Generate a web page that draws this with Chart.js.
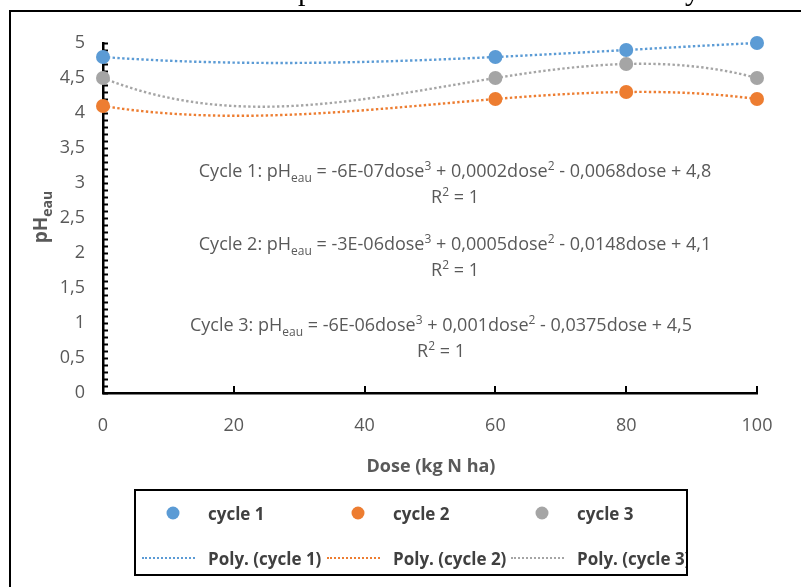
<!DOCTYPE html>
<html>
<head>
<meta charset="utf-8">
<script src="https://cdn.jsdelivr.net/npm/chart.js@4.4.0/dist/chart.umd.min.js"></script>
<style>
  html, body { margin: 0; padding: 0; background: #fff; }
  #wrap { position: relative; width: 801px; height: 587px; overflow: hidden; font-family: "Open Sans", sans-serif; }
  #chart { position: absolute; left: 0; top: 0; }
  .frame { position: absolute; left: 9px; top: 10px; width: 900px; height: 700px; border-top: 2.5px solid #000; border-left: 2.5px solid #000; }
  .cap { position: absolute; top: -25px; font-family: "Liberation Serif", serif; font-size: 30px; line-height: 30px; color: #000; white-space: nowrap; }
  .cap sub { font-size: 19px; line-height: 0; vertical-align: 0; position: relative; top: -3px; }
  .eq { position: absolute; color: #595959; font-size: 18px; text-align: center; white-space: nowrap; transform: translateX(-50%); line-height: 26px; }
  .eq sub, .eq sup { font-size: 12px; line-height: 0; }
  .ytitle { position: absolute; left: 40px; top: 217px; transform: translate(-50%, -50%) rotate(-90deg); color: #595959; font-weight: bold; font-size: 19px; white-space: nowrap; line-height: 24px; }
  .ytitle sub { font-size: 14px; line-height: 0; }
  .xtitle { position: absolute; left: 431px; top: 465px; transform: translate(-50%, -50%); color: #595959; font-weight: bold; font-size: 18px; white-space: nowrap; }
  .legend { position: absolute; left: 134px; top: 489px; width: 550px; height: 83px; border: 2px solid #000; overflow: hidden; }
  .item { position: absolute; color: #404040; font-weight: bold; font-size: 17px; white-space: nowrap; transform: translateY(-50%); }
  .dot { position: absolute; width: 13px; height: 13px; border-radius: 50%; transform: translate(-50%, -50%); }
  .dash { position: absolute; width: 53px; height: 0; border-top: 2.5px dotted; transform: translateY(-50%); }
</style>
</head>
<body>
<div id="wrap">
  <canvas id="chart" width="801" height="587"></canvas>
  <div class="frame"></div>
  <div class="cap" style="left:298px">pH<sub>eau</sub></div>
  <div class="cap" style="left:685px">y</div>
  <div id="eqs"></div>
  <div class="ytitle">pH<sub>eau</sub></div>
  <div class="xtitle">Dose (kg N ha)</div>
  <div class="legend" id="legend"></div>
</div>
<script>
// measured points
const doses = [0, 60, 80, 100];
const cycle1 = [4.8, 4.8, 4.9, 5.0];
const cycle2 = [4.1, 4.2, 4.3, 4.2];
const cycle3 = [4.5, 4.5, 4.7, 4.5];
const seriesNames = ['cycle 1', 'cycle 2', 'cycle 3'];
const colors = ['#5B9BD5', '#ED7D31', '#A5A5A5'];

const xTicks = [0, 20, 40, 60, 80, 100];
const yTicks = [0, 0.5, 1, 1.5, 2, 2.5, 3, 3.5, 4, 4.5, 5];

// trendline labels as printed on the chart
const equations = [
  'Cycle 1: pH<sub>eau</sub> = -6E-07dose<sup>3</sup> + 0,0002dose<sup>2</sup> - 0,0068dose + 4,8',
  'Cycle 2: pH<sub>eau</sub> = -3E-06dose<sup>3</sup> + 0,0005dose<sup>2</sup> - 0,0148dose + 4,1',
  'Cycle 3: pH<sub>eau</sub> = -6E-06dose<sup>3</sup> + 0,001dose<sup>2</sup> - 0,0375dose + 4,5'
];
const eqPos = [[455, 170], [455, 243], [441, 324]];

// least squares polynomial fit (what the "Poly." trendline is)
function polyfit(xs, ys, deg) {
  const n = deg + 1;
  const A = [], b = [];
  for (let i = 0; i < n; i++) {
    A.push(new Array(n).fill(0));
    b.push(0);
  }
  xs.forEach((x0, k) => {
    const x = x0 / 100;
    for (let i = 0; i < n; i++) {
      b[i] += ys[k] * Math.pow(x, i);
      for (let j = 0; j < n; j++) A[i][j] += Math.pow(x, i + j);
    }
  });
  for (let c = 0; c < n; c++) {
    let p = c;
    for (let r = c + 1; r < n; r++) if (Math.abs(A[r][c]) > Math.abs(A[p][c])) p = r;
    [A[c], A[p]] = [A[p], A[c]];
    [b[c], b[p]] = [b[p], b[c]];
    for (let r = c + 1; r < n; r++) {
      const f = A[r][c] / A[c][c];
      for (let j = c; j < n; j++) A[r][j] -= f * A[c][j];
      b[r] -= f * b[c];
    }
  }
  const coef = new Array(n).fill(0);
  for (let i = n - 1; i >= 0; i--) {
    let s = b[i];
    for (let j = i + 1; j < n; j++) s -= A[i][j] * coef[j];
    coef[i] = s / A[i][i];
  }
  return x0 => coef.reduce((acc, c, i) => acc + c * Math.pow(x0 / 100, i), 0);
}

function trend(ys) {
  const f = polyfit(doses, ys, 3);
  const pts = [];
  for (let x = doses[0]; x <= doses[doses.length - 1]; x += 1) pts.push({ x: x, y: f(x) });
  return pts;
}

const allSeries = [cycle1, cycle2, cycle3];

const pointSets = allSeries.map((ys, i) => ({
  label: seriesNames[i],
  data: doses.map((d, k) => ({ x: d, y: ys[k] })),
  backgroundColor: colors[i],
  borderColor: colors[i],
  pointRadius: 7,
  pointBorderWidth: 0,
  showLine: false,
  clip: false
}));

const trendSets = allSeries.map((ys, i) => ({
  label: 'Poly. (' + seriesNames[i] + ')',
  data: trend(ys),
  borderColor: colors[i],
  borderWidth: 2.4,
  borderDash: [2.4, 2.4],
  pointRadius: 0,
  showLine: true,
  clip: false
}));

// small inside tick marks, like the original axes
const tickMarks = {
  id: 'tickMarks',
  beforeDatasetsDraw(chart) {
    const { ctx, scales: { x, y } } = chart;
    ctx.save();
    ctx.strokeStyle = '#000';
    ctx.lineWidth = 2;
    for (let v = 0; v <= 50; v++) {
      const py = Math.round(y.getPixelForValue(v / 10)) + 0.5;
      ctx.beginPath();
      ctx.moveTo(x.left, py);
      ctx.lineTo(x.left + 5, py);
      ctx.stroke();
    }
    xTicks.forEach(v => {
      const px = Math.round(x.getPixelForValue(v));
      ctx.beginPath();
      ctx.moveTo(px, y.bottom);
      ctx.lineTo(px, y.bottom - 7);
      ctx.stroke();
    });
    ctx.restore();
  }
};

const tickFont = { family: '"Open Sans", sans-serif', size: 18 };

new Chart(document.getElementById('chart'), {
  type: 'scatter',
  data: { datasets: pointSets.concat(trendSets) },
  options: {
    responsive: false,
    animation: false,
    layout: { padding: { left: 43, right: 44, top: 43, bottom: 154 } },
    plugins: { legend: { display: false }, tooltip: { enabled: false } },
    scales: {
      x: {
        type: 'linear',
        min: 0,
        max: 100,
        afterBuildTicks: s => { s.ticks = xTicks.map(v => ({ value: v })); },
        afterFit: s => { s.height = 40; },
        grid: { drawOnChartArea: false, drawTicks: false },
        border: { color: '#000', width: 2.5 },
        ticks: { color: '#595959', font: tickFont, padding: 22 }
      },
      y: {
        type: 'linear',
        min: 0,
        max: 5,
        afterBuildTicks: s => { s.ticks = yTicks.map(v => ({ value: v })); },
        afterFit: s => { s.width = 60; },
        grid: { drawOnChartArea: false, drawTicks: false },
        border: { color: '#000', width: 2.5 },
        ticks: {
          color: '#595959',
          font: tickFont,
          padding: 18,
          callback: v => String(v).replace('.', ',')
        }
      }
    }
  },
  plugins: [tickMarks]
});

// trendline equations
const eqBox = document.getElementById('eqs');
equations.forEach((t, i) => {
  const d = document.createElement('div');
  d.className = 'eq';
  d.style.left = eqPos[i][0] + 'px';
  d.style.top = (eqPos[i][1] - 13) + 'px';
  d.innerHTML = t + '<br>R<sup>2</sup> = 1';
  eqBox.appendChild(d);
});

// legend: two rows, markers on top, trendlines below
const legend = document.getElementById('legend');
const colX = [37, 222, 406];
seriesNames.forEach((name, i) => {
  const dot = document.createElement('div');
  dot.className = 'dot';
  dot.style.left = colX[i] + 'px';
  dot.style.top = '22px';
  dot.style.background = colors[i];
  legend.appendChild(dot);

  const lbl = document.createElement('div');
  lbl.className = 'item';
  lbl.style.left = (colX[i] + 35) + 'px';
  lbl.style.top = '22px';
  lbl.textContent = name;
  legend.appendChild(lbl);

  const ln = document.createElement('div');
  ln.className = 'dash';
  ln.style.left = (colX[i] - 31) + 'px';
  ln.style.top = '67px';
  ln.style.borderColor = colors[i];
  legend.appendChild(ln);

  const lbl2 = document.createElement('div');
  lbl2.className = 'item';
  lbl2.style.left = (colX[i] + 35) + 'px';
  lbl2.style.top = '67px';
  lbl2.textContent = 'Poly. (' + name + ')';
  legend.appendChild(lbl2);
});
</script>
</body>
</html>
